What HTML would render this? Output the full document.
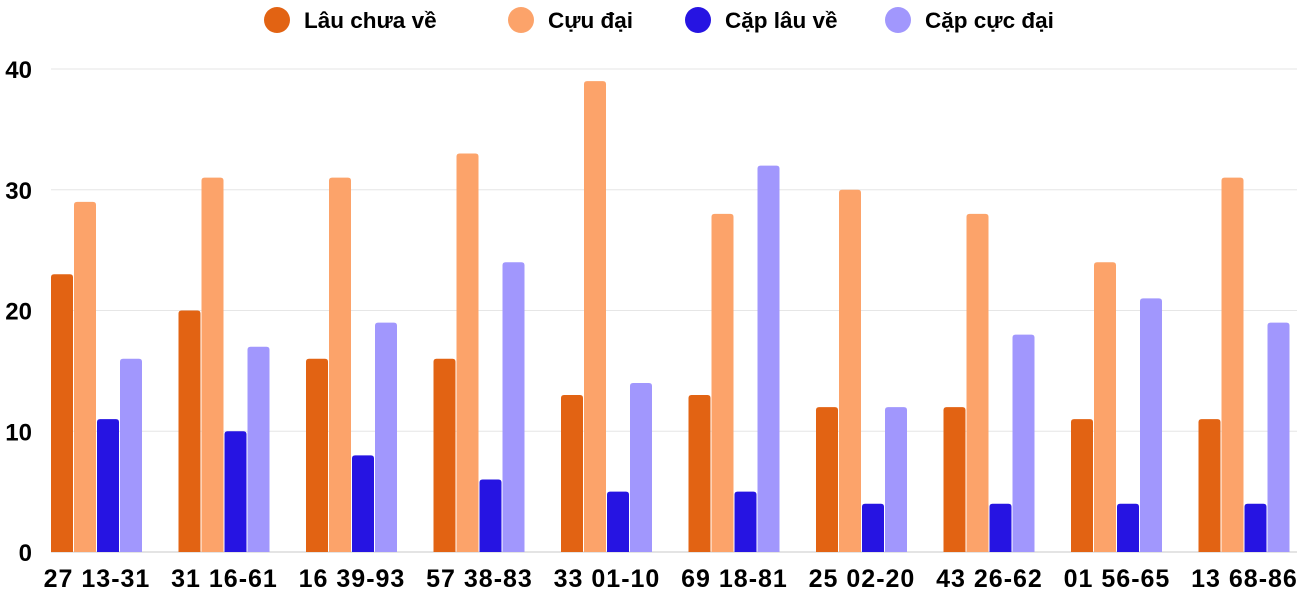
<!DOCTYPE html>
<html><head><meta charset="utf-8"><style>
body{margin:0;background:#fff;width:1300px;height:600px;overflow:hidden;font-family:"Liberation Sans",sans-serif}
</style></head><body>
<svg id="chart" width="1300" height="600" xmlns="http://www.w3.org/2000/svg" font-family="Liberation Sans, sans-serif" font-weight="bold"></svg>
<script>
const categories=["27 13-31","31 16-61","16 39-93","57 38-83","33 01-10","69 18-81","25 02-20","43 26-62","01 56-65","13 68-86"];
const seriesNames=["Lâu chưa về","Cựu đại","Cặp lâu về","Cặp cực đại"];
const lauChuaVe=[23,20,16,16,13,13,12,12,11,11];
const cuuDai=[29,31,31,33,39,28,30,28,24,31];
const capLauVe=[11,10,8,6,5,5,4,4,4,4];
const capCucDai=[16,17,19,24,14,32,12,18,21,19];
const yTicks=[0,10,20,30,40];
const colors=["#e26313","#fca36a","#2614e2","#a197fd"];
const series=[lauChuaVe,cuuDai,capLauVe,capCucDai];
const svg=document.getElementById('chart');
const NS="http://www.w3.org/2000/svg";
const y0=552,yTop=69,yMax=40;
const y=v=>y0-(v/yMax)*(y0-yTop);
const groupX=i=>51+i*127.5;
function mk(t,a){const e=document.createElementNS(NS,t);for(const k in a)e.setAttribute(k,a[k]);svg.appendChild(e);return e;}
yTicks.forEach(t=>{
  const l=mk('line',{x1:51,x2:1297,y1:y(t),y2:y(t),stroke:t===0?'#c8c8c8':'#e6e6e6','stroke-width':1});
  
  
  const tx=mk('text',{x:32,y:y(t)+9,'text-anchor':'end','font-size':24,fill:'#000'});
  tx.textContent=t;
  
  
});
categories.forEach((c,i)=>{
  series.forEach((s,j)=>{
    const top=y(s[i]);
    const r=mk('path',{d:`M${groupX(i)+j*23},${y0} V${top+3} q0,-3 3,-3 h16 q3,0 3,3 V${y0} Z`,fill:colors[j]});
    
    
  });
  const tx=mk('text',{x:groupX(i)+46,y:587,'text-anchor':'middle','font-size':25,'letter-spacing':1,fill:'#000'});
  tx.textContent=c;
  
  
});
const legX=[277,521,698,898];
seriesNames.forEach((n,j)=>{
  const c=mk('circle',{cx:legX[j],cy:20,r:13,fill:colors[j]});
  
  
  const t=mk('text',{x:legX[j]+27,y:28,'font-size':22.5,fill:'#000'});
  t.textContent=n;
  
  
});
</script>
</body></html>
